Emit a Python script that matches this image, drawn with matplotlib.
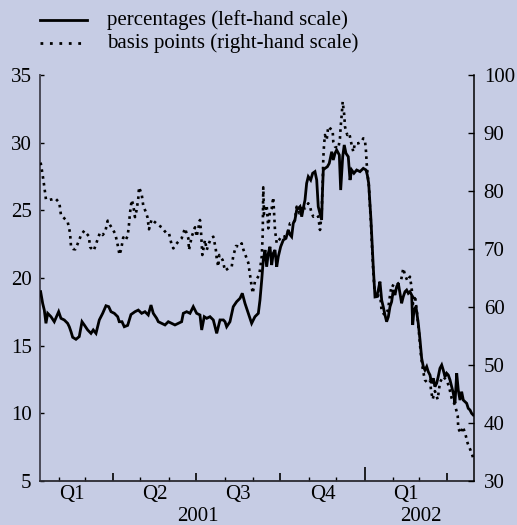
import datetime as dt
import matplotlib
matplotlib.use("Agg")
import matplotlib.pyplot as plt
from matplotlib.lines import Line2D

# ---------------- data (x = days since 1 Jan 2001) ----------------
pct_days = [11.0, 13.2, 15.0, 16.8, 18.7, 22.3, 25.9, 30.7, 33.2, 36.8, 40.5, 42.3, 44.2, 46.0, 49.6,
            53.2, 56.2, 58.7, 62.4, 66.0, 68.5, 71.5, 75.1, 78.8, 82.4, 85.4, 87.9, 91.5, 95.2, 96.9,
            99.9, 102.4, 106.1, 109.7, 114.1, 117.7, 121.4, 125.0, 128.6, 131.6, 134.1, 137.8, 139.6,
            143.3, 146.9, 150.5, 154.2, 157.8, 161.4, 165.1, 166.9, 170.6, 174.2, 177.8, 181.5, 185.1,
            187.0, 189.8, 192.5, 196.1, 199.7, 203.4, 207.0, 210.7, 212.5, 214.3, 217.9, 221.5, 225.2,
            228.9, 231.4, 234.3, 237.9, 241.6, 245.2, 248.9, 250.7, 252.6, 254.3, 256.2, 258.0, 259.8,
            261.6, 263.5, 265.2, 267.1, 269.0, 270.7, 273.3, 276.2, 279.1, 281.6, 283.5, 285.3, 287.1,
            288.9, 290.8, 294.4, 296.3, 298.0, 299.9, 301.7, 303.5, 306.1, 308.3, 310.8, 312.7, 314.4,
            316.3, 318.1, 318.8, 319.9, 321.7, 324.3, 326.4, 329.1, 330.8, 332.7, 334.5, 337.4, 338.9,
            341.1, 342.8, 344.7, 347.2, 349.1, 350.9, 353.4, 356.4, 360.0, 363.6, 366.6, 368.0, 369.5,
            370.9, 372.0, 373.1, 374.5, 376.4, 378.2, 380.0, 381.8, 383.7, 385.4, 387.3, 389.1, 391.0,
            392.8, 394.6, 396.4, 398.2, 400.1, 401.9, 403.7, 405.5, 407.3, 409.2, 411.0, 412.8, 414.6,
            416.5, 417.6, 419.0, 421.2, 423.7, 425.6, 427.4, 429.2, 431.0, 432.9, 434.6, 436.5, 438.3,
            440.1, 441.9, 443.8, 445.5, 447.4, 449.3, 451.0, 452.9, 454.7, 456.5, 458.4, 460.2, 462.0,
            463.8, 465.7, 467.4, 469.3, 471.1, 472.9, 474.8, 476.6, 478.3, 480.2, 482.0, 483.7]
pct_values = [18.99, 18.13, 17.63, 16.65, 17.39, 17.14, 16.77, 17.51, 17.02, 16.90, 16.65, 16.40, 16.03,
              15.62, 15.47, 15.67, 16.77, 16.53, 16.16, 15.91, 16.16, 15.91, 16.90, 17.39, 17.95, 17.88,
              17.51, 17.39, 17.14, 16.77, 16.77, 16.40, 16.50, 17.30, 17.51, 17.63, 17.39, 17.51, 17.27,
              18.00, 17.39, 17.02, 16.77, 16.65, 16.53, 16.77, 16.65, 16.53, 16.65, 16.77, 17.39, 17.51,
              17.39, 17.88, 17.39, 17.27, 16.16, 17.14, 17.02, 17.14, 16.90, 15.91, 16.90, 16.90, 16.77,
              16.40, 16.77, 17.88, 18.25, 18.50, 18.87, 18.13, 17.39, 16.65, 17.14, 17.39, 18.37, 19.85,
              21.33, 22.07, 20.83, 21.82, 22.31, 20.96, 21.82, 22.07, 20.83, 21.57, 22.31, 22.81, 22.93,
              23.55, 23.20, 23.05, 24.04, 24.29, 25.02, 25.27, 24.53, 25.15, 25.76, 27.00, 27.49, 27.24,
              27.74, 27.86, 27.24, 25.27, 24.78, 24.29, 26.01, 27.98, 28.10, 28.22, 28.47, 29.33, 28.72,
              29.21, 29.46, 29.09, 26.50, 28.96, 29.83, 29.21, 28.96, 27.24, 27.98, 27.74, 27.98, 27.86,
              28.10, 27.98, 27.61, 27.00, 25.52, 24.29, 22.81, 20.83, 18.60, 18.62, 19.11, 19.73, 18.37,
              17.88, 17.27, 16.77, 17.14, 17.88, 18.25, 19.11, 18.74, 19.36, 19.61, 18.87, 18.13, 18.62,
              18.99, 19.11, 18.87, 18.99, 18.74, 16.53, 17.63, 17.88, 16.65, 15.42, 14.07, 13.45, 13.20,
              13.45, 13.08, 12.83, 12.22, 12.59, 11.97, 12.22, 12.71, 13.33, 13.57, 13.20, 12.71, 12.96,
              12.83, 12.46, 11.97, 11.48, 10.74, 12.96, 11.72, 10.98, 11.60, 10.98, 10.86, 10.74, 10.37,
              10.25, 10.00, 9.88]

bp_days = [11.0, 13.2, 15.0, 16.8, 19.8, 23.4, 27.0, 31.4, 33.2, 36.8, 40.5, 43.1, 44.2, 46.4, 48.9,
           53.2, 55.1, 58.7, 60.5, 63.5, 65.2, 69.0, 71.5, 75.8, 78.8, 81.6, 84.3, 86.8, 90.1, 92.6,
           95.2, 97.2, 98.8, 101.3, 103.7, 106.1, 107.5, 108.6, 110.5, 112.2, 114.1, 115.9, 117.7,
           118.5, 121.4, 123.2, 125.8, 127.7, 129.4, 132.3, 135.2, 139.6, 143.3, 146.1, 148.7, 151.3,
           154.2, 156.0, 158.9, 161.4, 165.1, 168.7, 172.4, 173.1, 176.1, 179.7, 181.5, 185.1, 186.2,
           187.0, 187.7, 190.6, 192.5, 195.0, 197.2, 199.7, 202.3, 203.4, 205.1, 206.2, 209.9, 212.5,
           216.1, 219.8, 221.5, 224.5, 228.9, 230.7, 232.5, 236.2, 237.9, 239.8, 241.6, 242.7, 245.2,
           249.9, 252.6, 253.7, 254.3, 255.1, 258.0, 259.8, 261.6, 263.5, 265.2, 267.1, 269.0, 271.4,
           274.4, 278.0, 281.3, 283.5, 287.1, 288.9, 290.8, 293.6, 296.3, 299.9, 303.5, 305.4, 307.2,
           309.0, 312.7, 314.4, 316.3, 318.1, 319.2, 319.9, 320.7, 321.7, 323.6, 325.3, 327.2, 330.1,
           330.8, 332.7, 336.3, 338.1, 338.9, 340.0, 341.1, 342.8, 343.6, 346.1, 348.3, 350.9, 352.7,
           354.5, 358.2, 361.8, 363.6, 365.4, 366.6, 367.3, 368.4, 369.8, 370.9, 372.0, 372.8, 374.2,
           375.8, 378.0, 380.2, 382.4, 383.7, 387.3, 390.6, 392.8, 394.6, 398.2, 401.9, 404.8, 407.3,
           409.2, 411.9, 414.6, 416.5, 417.9, 420.1, 422.3, 424.5, 426.7, 428.9, 431.0, 433.2, 436.5,
           437.6, 439.4, 441.9, 444.9, 447.4, 450.7, 454.7, 457.3, 460.2, 463.8, 466.8, 467.4, 470.1,
           472.3, 474.8, 477.7, 481.0, 482.0, 483.7]
bp_values = [84.9, 82.76, 80.75, 78.56, 78.45, 78.56, 78.74, 77.99, 75.86, 75.3, 74.71, 72.81, 70.4,
             70.0, 69.94, 71.55, 72.41, 73.16, 72.8, 72.24, 70.29, 69.71, 70.86, 72.81, 72.41, 72.99,
             74.89, 74.14, 73.3, 72.59, 70.69, 69.0, 69.83, 72.0, 71.5, 72.24, 74.14, 76.15, 78.45,
             77.59, 75.5, 76.72, 78.74, 80.64, 79.48, 77.41, 76.44, 75.5, 73.4, 75.12, 74.71, 74.14,
             73.74, 73.16, 72.7, 72.7, 70.69, 70.11, 70.8, 71.26, 71.84, 73.56, 71.84, 69.83, 72.12,
             73.74, 72.12, 75.0, 73.16, 70.98, 68.97, 71.55, 69.83, 71.0, 71.84, 72.12, 70.11, 68.39,
             66.95, 68.97, 68.1, 66.26, 66.67, 66.95, 68.79, 70.52, 70.4, 70.98, 69.94, 68.39, 67.64,
             65.52, 63.5, 62.36, 64.36, 65.52, 68.68, 72.5, 80.64, 76.0, 77.59, 73.56, 76.5, 77.0,
             78.91, 73.28, 70.98, 71.5, 72.24, 72.12, 73.0, 74.43, 74.43, 75.0, 77.3, 76.15, 77.59,
             77.0, 77.88, 77.3, 76.15, 75.57, 75.86, 75.57, 73.28, 76.15, 81.33, 85.6, 87.9, 89.66,
             88.79, 91.09, 90.8, 90.52, 88.5, 87.64, 87.36, 89.08, 91.09, 93.1, 95.4, 93.1, 91.09,
             89.66, 89.95, 87.93, 86.78, 88.22, 88.22, 88.5, 89.08, 88.79, 86.78, 84.77, 82.76, 80.75,
             77.3, 74.43, 71.55, 67.0, 63.0, 61.5, 62.0, 61.5, 59.2, 58.6, 59.5, 62.0, 63.79, 63.5,
             64.08, 64.5, 66.67, 65.52, 64.5, 65.23, 63.22, 60.5, 62.0, 59.0, 55.5, 51.5, 49.0, 47.41,
             47.0, 47.41, 45.69, 44.08, 45.5, 44.08, 47.0, 48.0, 47.41, 46.26, 44.26, 43.1, 41.26,
             39.08, 38.22, 39.36, 38.33, 36.49, 35.23, 34.77, 34.0]

legend_labels = ["percentages (left-hand scale)", "basis points (right-hand scale)"]
left_ticks = [5, 10, 15, 20, 25, 30, 35]
right_ticks = [30, 40, 50, 60, 70, 80, 90, 100]
quarter_labels = ["Q1", "Q2", "Q3", "Q4", "Q1"]
year_labels = ["2001", "2002"]

# ---------------- calendar helpers ----------------
base = dt.date(2001, 1, 1)
def dnum(y, m, d=1):
    return (dt.date(y, m, d) - base).days

month_days = [dnum(2001, m) for m in range(2, 13)] + [dnum(2002, m) for m in range(1, 5)]
quarter_bounds = [dnum(2001, 1), dnum(2001, 4), dnum(2001, 7), dnum(2001, 10), dnum(2002, 1), dnum(2002, 4)]
quarter_mid = [(quarter_bounds[i] + quarter_bounds[i + 1]) / 2 for i in range(5)]
year_mid = [183, 426.7]
xmin, xmax = 10.3, 484.6

# ---------------- style ----------------
BG = "#c6cce4"
FONT = "Liberation Serif"
FS = 15
plt.rcParams["font.family"] = [FONT, "DejaVu Serif"]

W, H = 517, 525
fig = plt.figure(figsize=(W / 100, H / 100), dpi=100, facecolor=BG)
ax = fig.add_axes([40 / W, 44 / H, 434 / W, 406 / H])
ax.set_facecolor("none")
ax2 = ax.twinx()

l1, = ax.plot(pct_days, pct_values, color="black", lw=2.0, solid_joinstyle="miter", zorder=3)
l2, = ax2.plot(bp_days, bp_values, color="black", lw=1.9, linestyle=(0, (1, 1.6)),
               dash_capstyle="butt", zorder=4)

ax.set_xlim(xmin, xmax)
ax.set_ylim(5, 35)
ax2.set_ylim(30, 100)

ax.set_yticks(left_ticks)
ax2.set_yticks(right_ticks)
ax.tick_params(axis="y", direction="in", length=3, width=1, labelsize=FS, pad=6, colors="black")
ax2.tick_params(axis="y", direction="in", length=4, width=1, labelsize=FS, pad=7)

ax.set_xticks(quarter_bounds[1:])
ax.set_xticks(month_days, minor=True)
ax.tick_params(axis="x", which="major", direction="in", length=6, width=1.2, labelbottom=False)
ax.tick_params(axis="x", which="minor", direction="in", length=3, width=1.0)
for t, v in zip(ax.xaxis.get_major_ticks(), quarter_bounds[1:]):
    if v == dnum(2002, 1):
        t.tick1line.set_markersize(10)

for s in ["top", "right"]:
    ax.spines[s].set_visible(False)
for s in ["top", "left", "bottom"]:
    ax2.spines[s].set_visible(False)
ax.spines["left"].set_color("#4a4a58")
ax.spines["left"].set_linewidth(1.4)
ax.spines["bottom"].set_color("#2a2a30")
ax.spines["bottom"].set_linewidth(1.3)
ax2.spines["right"].set_color("black")
ax2.spines["right"].set_linewidth(1.1)

trans = ax.get_xaxis_transform()
for lab, xm in zip(quarter_labels, quarter_mid):
    ax.text(xm, -0.034, lab, transform=trans, ha="center", va="center", fontsize=FS)
for lab, xm in zip(year_labels, year_mid):
    ax.text(xm, -0.088, lab, transform=trans, ha="center", va="center", fontsize=FS)

# legend (manual, figure pixel coords)
def fx(px):
    return px / W
def fy(py):
    return 1 - py / H

fig.add_artist(Line2D([fx(40), fx(87)], [fy(20), fy(20)], color="black", lw=2.0))
fig.add_artist(Line2D([fx(40), fx(87)], [fy(43), fy(43)], color="black", lw=2.0,
                      linestyle=(0, (1, 2.4)), dash_capstyle="butt"))
fig.text(fx(107), fy(20), legend_labels[0], ha="left", va="center", fontsize=FS)
fig.text(fx(107), fy(43), legend_labels[1], ha="left", va="center", fontsize=FS)

fig.savefig("out.png", dpi=100, facecolor=BG)
